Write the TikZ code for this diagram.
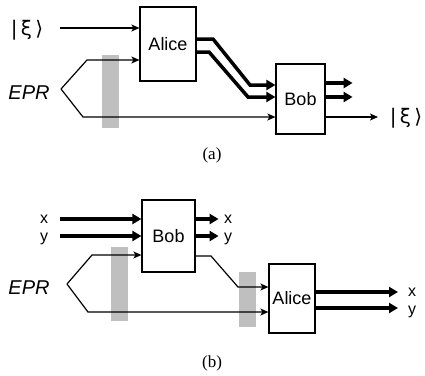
\documentclass[tikz,border=0pt]{standalone}
\usepackage{fontspec}
\setmainfont{Liberation Serif}
\setsansfont{Liberation Sans}
\newfontfamily\ketfont{DejaVu Sans}
\usetikzlibrary{arrows.meta}
\tikzset{
  box/.style={draw,line width=1.2pt,inner sep=0pt,font=\sffamily\fontsize{18}{18}\selectfont},
  lbl/.style={inner sep=0pt,font=\sffamily\fontsize{20}{20}\selectfont},
  xylbl/.style={inner sep=0pt,anchor=base,font=\sffamily\fontsize{16}{16}\selectfont},
  thinarrow/.style={line width=1.2pt,-{Stealth[length=8pt,width=7pt,inset=2pt]}},
  thickarrow/.style={line width=3.5pt,-{Triangle[length=9pt,width=10pt]}},
  screen/.style={fill=black!25}
}
\newcommand{\ket}{{\ketfont\fontsize{20}{20}\selectfont|\,ξ\,⟩}}
\begin{document}
\begin{tikzpicture}[x=1pt,y=-1pt]
    \useasboundingbox (0,0) rectangle (425,375);
    \fill[screen] (102,55) rectangle (119,128);
    \node[box,minimum width=56pt,minimum height=74pt] (aliceA) at (168,44) {Alice};
    \node[box,minimum width=49pt,minimum height=70pt] (bobA) at (300.5,99) {Bob};
    \node[lbl] (ketA) at (27,30) {\ket};
    \node[lbl] (eprA) at (29,93) {\itshape EPR};
    \coordinate (ketAin) at (60,28);
    \coordinate (tipA) at (61,89);
    \draw[thinarrow] (ketAin) -- (ketAin -| aliceA.west);
    \draw[thinarrow] (tipA) -- (87,60) -- (aliceA.west |- 0,60);
    \draw[thinarrow] (tipA) -- (83,117) -- (bobA.west |- 0,117);
    \draw[thickarrow] (aliceA.east |- 0,39) -- (213,39) -- (250,85) -- (bobA.west |- 0,85);
    \draw[thickarrow] (aliceA.east |- 0,52) -- (209,52) -- (248,97) -- (bobA.west |- 0,97);
    \draw[thickarrow] (bobA.east |- 0,83) -- +(27,0);
    \draw[thickarrow] (bobA.east |- 0,97) -- +(27,0);
    \node[lbl] (ketB) at (406,118) {\ket};
    \draw[thinarrow] (bobA.east |- 0,117) -- (378,117);
    \node[font=\fontsize{17}{17}\selectfont] (capA) at (212,155) {(a)};

    \fill[screen] (111,247) rectangle (128,321);
    \fill[screen] (239,272) rectangle (256,327);
    \node[box,minimum width=53pt,minimum height=72pt] (bobB) at (168.5,236) {Bob};
    \node[box,minimum width=46pt,minimum height=69pt] (aliceB) at (292,298.5) {Alice};
    \node[xylbl] (xin) at (44,223) {x};
    \node[xylbl] (yin) at (44,241) {y};
    \node[lbl] (eprB) at (29,288) {\itshape EPR};
    \coordinate (tipB) at (67,284);
    \draw[thickarrow] (60,219) -- (bobB.west |- 0,219);
    \draw[thickarrow] (60,236) -- (bobB.west |- 0,236);
    \draw[thickarrow] (bobB.east |- 0,219) -- +(23,0);
    \draw[thickarrow] (bobB.east |- 0,236) -- +(23,0);
    \node[xylbl] (xout) at (228,223) {x};
    \node[xylbl] (yout) at (228,241) {y};
    \draw[thinarrow] (tipB) -- (92,255) -- (bobB.west |- 0,255);
    \draw[thinarrow] (tipB) -- (88,312) -- (aliceB.west |- 0,312);
    \draw[thinarrow] (bobB.east |- 0,256) -- (211,256) -- (238,287) -- (aliceB.west |- 0,287);
    \draw[thickarrow] (aliceB.east |- 0,292) -- (398,292);
    \draw[thickarrow] (aliceB.east |- 0,308) -- (398,308);
    \node[xylbl] (xres) at (412,296) {x};
    \node[xylbl] (yres) at (412,314) {y};
    \node[font=\fontsize{17}{17}\selectfont] (capB) at (212,363) {(b)};
\end{tikzpicture}
\end{document}
